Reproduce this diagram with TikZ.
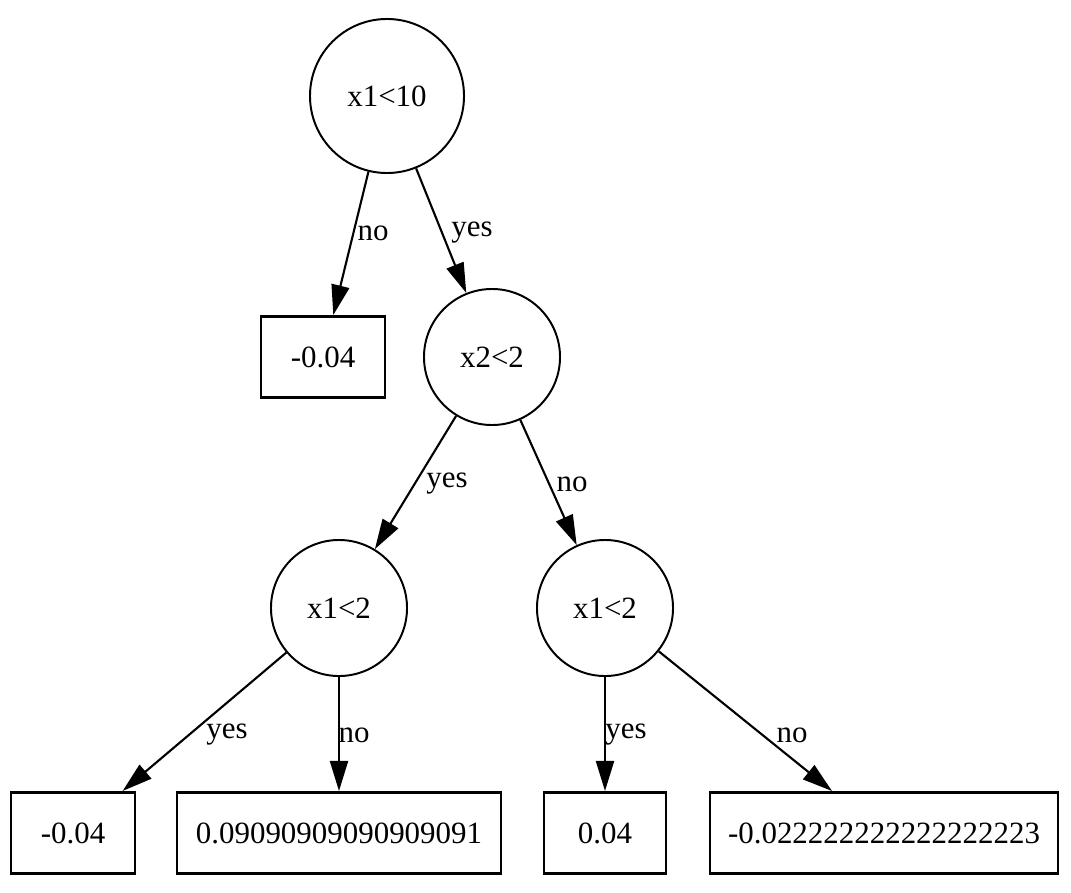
\documentclass[tikz,border=0pt]{standalone}
\usepackage{fontspec}
\setmainfont{Liberation Serif}
\usetikzlibrary{arrows.meta}
\tikzset{
    split/.style={draw, circle, line width=1.4pt, inner sep=0pt},
    leaf/.style={draw, rectangle, line width=2pt, minimum height=2.03cm},
    branch/.style={line width=1.5pt, -{Triangle[length=0.75cm, width=0.45cm]}},
    tag/.style={font=\fontsize{22}{26}\selectfont}
}
\begin{document}
\begin{tikzpicture}[x=0.025cm, y=-0.025cm, font=\fontsize{22}{26}\selectfont]
    \useasboundingbox (0, 0) rectangle (1071, 893);

    \node [split, minimum size=3.85cm] (root) at (387, 96) {x1<10};
    \node [leaf, minimum width=3.1cm] (leafA) at (323, 357) {-0.04};
    \node [split, minimum size=3.4cm] (mid) at (492, 357) {x2<2};
    \node [split, minimum size=3.4cm] (left) at (339, 608) {x1<2};
    \node [split, minimum size=3.4cm] (right) at (605, 608) {x1<2};
    \node [leaf, minimum width=3.1cm] (leafB) at (73, 833) {-0.04};
    \node [leaf, minimum width=8.1cm] (leafC) at (339, 833) {0.09090909090909091};
    \node [leaf, minimum width=3.05cm] (leafD) at (605, 833) {0.04};
    \node [leaf, minimum width=8.7cm] (leafE) at (884, 833) {-0.022222222222222223};

    \draw [branch] (root) -- (leafA);
    \draw [branch] (root) -- (mid);
    \draw [branch] (mid) -- (left);
    \draw [branch] (mid) -- (right);
    \draw [branch] (left) -- (leafB);
    \draw [branch] (left) -- (leafC);
    \draw [branch] (right) -- (leafD);
    \draw [branch] (right) -- (leafE);

    \node [tag] (t1) at (373, 233) {no};
    \node [tag] (t2) at (472, 233) {yes};
    \node [tag] (t3) at (447, 484) {yes};
    \node [tag] (t4) at (572, 484) {no};
    \node [tag] (t5) at (227, 735) {yes};
    \node [tag] (t6) at (354, 735) {no};
    \node [tag] (t7) at (626, 735) {yes};
    \node [tag] (t8) at (792, 735) {no};
\end{tikzpicture}
\end{document}
